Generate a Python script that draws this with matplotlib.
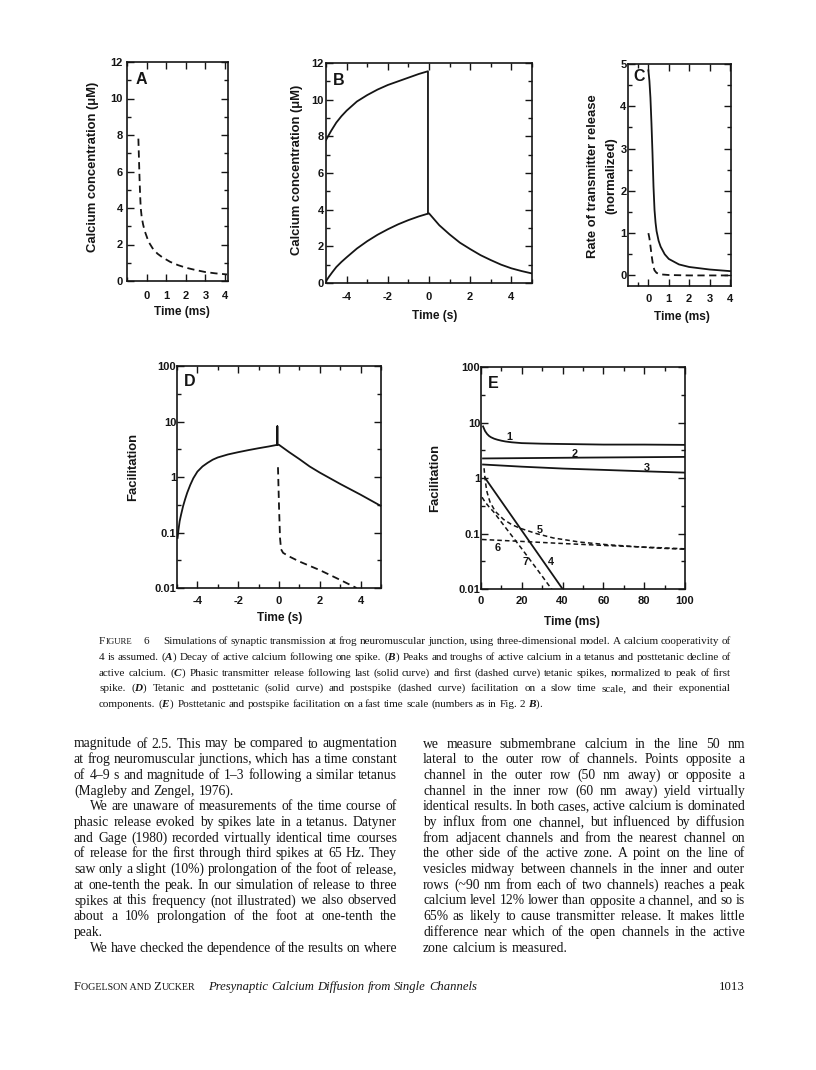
import numpy as np
import matplotlib.pyplot as plt
from matplotlib.ticker import MultipleLocator, FixedLocator, FixedFormatter, LogLocator, NullFormatter

## data

# A: decay of active calcium after one spike
a_t = [-0.42, -0.39, -0.36, -0.33, -0.3, -0.25, -0.18, -0.1, 0.0, 0.1, 0.3, 0.55, 0.8, 1.2, 1.6, 2.0, 2.5, 3.0, 3.5, 4.1]
a_ca = [7.8, 6.7, 5.6, 4.7, 4.0, 3.5, 3.1, 2.75, 2.45, 2.15, 1.8, 1.5, 1.3, 1.05, 0.87, 0.73, 0.6, 0.49, 0.42, 0.36]

# B: peaks / troughs in tetanus, posttetanic decline
b_peak_t = [-5, -4.75, -4.5, -4.25, -4, -3.5, -3, -2.5, -2, -1.5, -1, -0.5, -0.05, -0.05]
b_peak = [7.8, 8.3, 8.75, 9.1, 9.4, 9.9, 10.25, 10.55, 10.8, 11.0, 11.2, 11.4, 11.55, 3.8]
b_trough_t = [-5, -4.85, -4.7, -4.5, -4.25, -4, -3.5, -3, -2.5, -2, -1.5, -1, -0.5, 0,
              0.5, 1, 1.5, 2, 2.5, 3, 3.5, 4, 4.5, 5]
b_trough = [0.1, 0.35, 0.58, 0.87, 1.15, 1.4, 1.88, 2.28, 2.63, 2.93, 3.2, 3.43, 3.63, 3.8,
            3.15, 2.65, 2.2, 1.85, 1.52, 1.25, 1.0, 0.8, 0.65, 0.52]

# C: phasic release, last (solid) and first (dashed) spikes
c_last_t = [0, 0.05, 0.1, 0.15, 0.2, 0.25, 0.3, 0.35, 0.4, 0.5, 0.6, 0.8, 1.0, 1.5, 2, 3, 4.05]
c_last = [4.85, 4.6, 4.2, 3.6, 2.9, 2.1, 1.55, 1.25, 1.05, 0.82, 0.68, 0.5, 0.39, 0.26, 0.2, 0.14, 0.1]
c_first_t = [0, 0.05, 0.1, 0.15, 0.2, 0.25, 0.3, 0.4, 0.6, 1, 2, 4.05]
c_first = [1.0, 0.88, 0.7, 0.5, 0.33, 0.2, 0.12, 0.06, 0.025, 0.01, 0, 0]

# D: tetanic + posttetanic (solid), postspike (dashed)
d_tet_t = [-4.97, -4.93, -4.87, -4.8, -4.7, -4.6, -4.5, -4.35, -4.2, -4, -3.75, -3.5, -3.25, -3,
           -2.5, -2, -1.5, -1, -0.5, -0.08, -0.08, -0.08,
           0, 0.5, 1, 1.5, 2, 3, 4, 5]
d_tet = [0.08, 0.11, 0.16, 0.21, 0.3, 0.4, 0.52, 0.72, 0.95, 1.25, 1.55, 1.8, 2.05, 2.25,
         2.55, 2.8, 3.05, 3.3, 3.55, 3.8, 8.2, 3.8,
         3.8, 2.8, 2.1, 1.55, 1.2, 0.75, 0.48, 0.3]
d_spike_t = [-0.05, 0.0, 0.05, 0.1, 0.2, 0.5, 1, 2, 3, 3.8]
d_spike = [1.5, 0.3, 0.08, 0.05, 0.043, 0.037, 0.03, 0.021, 0.014, 0.01]

# E: fast time scale, curves 1-7 (1-4 solid, 5-7 dashed)
e1_t = [1, 1.5, 2, 3, 4, 5, 6.5, 8, 10, 12, 15, 20, 30, 40, 60, 80, 100]
e1 = [8.5, 7.7, 7.0, 6.2, 5.7, 5.4, 5.1, 4.9, 4.7, 4.55, 4.4, 4.25, 4.15, 4.1, 4.0, 4.0, 3.95]
e2_t = [1, 50, 100]
e2 = [2.25, 2.33, 2.4]
e3_t = [1, 20, 40, 60, 80, 100]
e3 = [1.75, 1.6, 1.48, 1.4, 1.32, 1.25]
e4_t = [2, 40]
e4 = [1.0, 0.01]
e5_t = [1.5, 2, 2.5, 3, 4.4, 7, 11, 15, 19, 27, 35.5, 48.5, 61.6, 84.5, 100]
e5 = [1.5, 0.95, 0.7, 0.55, 0.37, 0.25, 0.18, 0.145, 0.125, 0.1, 0.083, 0.07, 0.063, 0.055, 0.052]
e6_t = [0.5, 20, 40, 60, 80, 100]
e6 = [0.078, 0.072, 0.066, 0.061, 0.057, 0.053]
e7_t = [0.5, 2, 4, 6, 10, 20, 30, 35]
e7 = [0.45, 0.37, 0.3, 0.25, 0.16, 0.053, 0.017, 0.0095]
e_lab = ['1', '2', '3', '4', '5', '6', '7']
e_lab_t = [13.9, 46, 81.3, 34.3, 29, 8.2, 22]
e_lab_v = [5.4, 2.67, 1.49, 0.031, 0.116, 0.055, 0.031]

caption = [
    "Simulations of synaptic transmission at frog neuromuscular junction, using three-dimensional model. A calcium cooperativity of",
    "4 is assumed. ($\\mathit{A}$) Decay of active calcium following one spike. ($\\mathit{B}$) Peaks and troughs of active calcium in a tetanus and posttetanic decline of",
    "active calcium. ($\\mathit{C}$) Phasic transmitter release following last (solid curve) and first (dashed curve) tetanic spikes, normalized to peak of first",
    "spike. ($\\mathit{D}$) Tetanic and posttetanic (solid curve) and postspike (dashed curve) facilitation on a slow time scale, and their exponential",
    "components. ($\\mathit{E}$) Posttetanic and postspike facilitation on a fast time scale (numbers as in Fig. 2 $\\mathit{B}$).",
]
left_col = [
    "magnitude of 2.5. This may be compared to augmentation",
    "at frog neuromuscular junctions, which has a time constant",
    "of 4–9 s and magnitude of 1–3 following a similar tetanus",
    "(Magleby and Zengel, 1976).",
    "We are unaware of measurements of the time course of",
    "phasic release evoked by spikes late in a tetanus. Datyner",
    "and Gage (1980) recorded virtually identical time courses",
    "of release for the first through third spikes at 65 Hz. They",
    "saw only a slight (10%) prolongation of the foot of release,",
    "at one-tenth the peak. In our simulation of release to three",
    "spikes at this frequency (not illustrated) we also observed",
    "about a 10% prolongation of the foot at one-tenth the",
    "peak.",
    "We have checked the dependence of the results on where",
]
left_last = [3, 12]
left_indent = [4, 13]
right_col = [
    "we measure submembrane calcium in the line 50 nm",
    "lateral to the outer row of channels. Points opposite a",
    "channel in the outer row (50 nm away) or opposite a",
    "channel in the inner row (60 nm away) yield virtually",
    "identical results. In both cases, active calcium is dominated",
    "by influx from one channel, but influenced by diffusion",
    "from adjacent channels and from the nearest channel on",
    "the other side of the active zone. A point on the line of",
    "vesicles midway between channels in the inner and outer",
    "rows (~90 nm from each of two channels) reaches a peak",
    "calcium level 12% lower than opposite a channel, and so is",
    "65% as likely to cause transmitter release. It makes little",
    "difference near which of the open channels in the active",
    "zone calcium is measured.",
]
right_last = [13]

plt.rcParams['font.family'] = ['Liberation Sans', 'DejaVu Sans']
plt.rcParams['font.weight'] = 'bold'
plt.rcParams['axes.unicode_minus'] = False
plt.rcParams['mathtext.fontset'] = 'custom'
plt.rcParams['mathtext.rm'] = 'Liberation Serif'
plt.rcParams['mathtext.it'] = 'Liberation Serif:italic'

W, H = 816, 1070
ink = '#151515'
fig = plt.figure(figsize=(W / 100, H / 100), dpi=100)
R = fig.canvas.get_renderer()


def ax_px(l, t, r, b):
    return fig.add_axes([l / W, 1 - b / H, (r - l) / W, (b - t) / H])


def txt(x, y, s, **kw):
    return fig.text(x / W, 1 - y / H, s, color=ink, **kw)


def style(ax, xpad, ypad):
    ax.tick_params(which='both', direction='in', top=True, right=True, width=1.0,
                   labelsize=8, colors=ink)
    ax.tick_params(which='major', length=5)
    ax.tick_params(which='minor', length=3)
    ax.tick_params(axis='x', pad=xpad)
    ax.tick_params(axis='y', pad=ypad)
    for sp in ax.spines.values():
        sp.set_linewidth(1.2)
        sp.set_color(ink)


lw = 1.3
dash = (0, (4, 2.5))

# ---- A
ax = ax_px(127, 62, 228, 281)
ax.plot(a_t, a_ca, color=ink, lw=lw, ls=dash)
ax.set_xlim(-1, 4.15)
ax.set_ylim(0, 12)
ax.xaxis.set_major_locator(FixedLocator([0, 1, 2, 3, 4]))
ax.xaxis.set_minor_locator(FixedLocator([-1]))
ax.yaxis.set_major_locator(MultipleLocator(2))
ax.yaxis.set_minor_locator(MultipleLocator(1))
style(ax, 7, 3)

# ---- B
ax = ax_px(326, 63, 532, 283)
ax.plot(b_peak_t, b_peak, color=ink, lw=lw)
ax.plot(b_trough_t, b_trough, color=ink, lw=lw)
ax.set_xlim(-5, 5)
ax.set_ylim(0, 12)
ax.xaxis.set_major_locator(MultipleLocator(2))
ax.xaxis.set_minor_locator(MultipleLocator(1))
ax.yaxis.set_major_locator(MultipleLocator(2))
ax.yaxis.set_minor_locator(MultipleLocator(1))
style(ax, 6.5, 1.5)

# ---- C
ax = ax_px(628, 64, 731, 286)
ax.plot(c_last_t, c_last, color=ink, lw=lw)
ax.plot(c_first_t, c_first, color=ink, lw=lw, ls=dash)
ax.set_xlim(-1, 4.05)
ax.set_ylim(-0.25, 5)
ax.xaxis.set_major_locator(FixedLocator([0, 1, 2, 3, 4]))
ax.xaxis.set_minor_locator(FixedLocator([-0.5]))
ax.yaxis.set_major_locator(MultipleLocator(1))
ax.yaxis.set_minor_locator(MultipleLocator(0.5))
style(ax, 5.5, 1)

# ---- D and E (log scale)
logticks = [0.01, 0.1, 1, 10, 100]
loglabels = ['0.01', '0.1', '1', '10', '100']


def logy(ax):
    ax.set_yscale('log')
    ax.set_ylim(0.01, 100)
    ax.yaxis.set_major_locator(FixedLocator(logticks))
    ax.yaxis.set_major_formatter(FixedFormatter(loglabels))
    ax.yaxis.set_minor_locator(LogLocator(subs=[10 ** 0.5]))
    ax.yaxis.set_minor_formatter(NullFormatter())


ax = ax_px(177, 366, 381, 588)
ax.plot(d_tet_t, d_tet, color=ink, lw=lw)
ax.plot(d_spike_t, d_spike, color=ink, lw=lw, ls=dash)
ax.set_xlim(-5, 5)
logy(ax)
ax.xaxis.set_major_locator(MultipleLocator(2))
ax.xaxis.set_minor_locator(MultipleLocator(1))
style(ax, 5.5, 0.5)

ax = ax_px(481, 367, 685, 589)
for t, v in [(e1_t, e1), (e2_t, e2), (e3_t, e3), (e4_t, e4)]:
    ax.plot(t, v, color=ink, lw=lw)
for t, v in [(e5_t, e5), (e6_t, e6), (e7_t, e7)]:
    ax.plot(t, v, color=ink, lw=1.1, ls=(0, (3, 2)))
for s, t, v in zip(e_lab, e_lab_t, e_lab_v):
    ax.text(t, v, s, fontsize=7.8, ha='center', va='center', color=ink)
ax.set_xlim(0, 100)
logy(ax)
ax.xaxis.set_major_locator(MultipleLocator(20))
ax.xaxis.set_minor_locator(MultipleLocator(10))
style(ax, 5, 0.5)

# panel letters and axis titles
for s, x, y in [('A', 141.7, 80), ('B', 338.3, 80.7), ('C', 639.3, 76.7), ('D', 190, 381.7), ('E', 493.3, 383.3)]:
    txt(x, y, s, fontsize=11.5, ha='center', va='center')
ylab = dict(fontsize=9.4, ha='center', va='center', rotation=90)
xlab = dict(fontsize=8.6, ha='center', va='center')
txt(93.3, 167, 'Calcium concentration (μM)', **ylab)
txt(297.3, 170, 'Calcium concentration (μM)', **ylab)
txt(593, 176, 'Rate of transmitter release', **ylab)
txt(611.7, 176, '(normalized)', **ylab)
txt(133.3, 467, 'Facilitation', **ylab)
txt(435, 478, 'Facilitation', **ylab)
txt(181.7, 311.7, 'Time (ms)', **xlab)
txt(435, 316, 'Time (s)', **xlab)
txt(681.7, 316.7, 'Time (ms)', **xlab)
txt(280, 618.3, 'Time (s)', **xlab)
txt(571.7, 621.7, 'Time (ms)', **xlab)


# ---- page text (justified by spreading words)
def word_widths(words, size, style='normal'):
    out = []
    for w in words:
        o = txt(0, 0, w, fontsize=size, family='Liberation Serif', weight='normal', style=style)
        out.append(o.get_window_extent(R).width)
        o.remove()
    return out


def fit_size(lines, width, size0=10.0, min_gap=0.24):
    # largest size where every justified line still keeps a normal-ish word gap
    best = 99
    for words, avail in lines:
        ww = word_widths(words, size0)
        need = sum(ww) + (len(words) - 1) * min_gap * size0 * 100 / 72
        best = min(best, size0 * avail / need)
    return best


def put_line(words, x0, x1, yb, size, justify=True, style='normal'):
    objs = [txt(0, 0, w, fontsize=size, family='Liberation Serif', weight='normal',
                style=style, va='baseline') for w in words]
    widths = [o.get_window_extent(R).width for o in objs]
    gap = size * 100 / 72 * 0.25
    if justify and len(words) > 1:
        gap = (x1 - x0 - sum(widths)) / (len(words) - 1)
    x = x0
    for o, w in zip(objs, widths):
        o.set_position((x / W, 1 - yb / H))
        x += w + gap
    return x


def small_caps(pieces, x, yb, size):
    for s, big in pieces:
        o = txt(x, yb, s, fontsize=size if big else size * 0.78,
                family='Liberation Serif', weight='normal', va='baseline')
        x += o.get_window_extent(R).width
    return x


# caption
cap_x0, cap_x1 = 99, 731
cap_y = [644, 660, 675.5, 691, 707]
cap_first = 163
cap_lines = [(caption[0].split(), cap_x1 - cap_first)] + \
            [(caption[i].split(), cap_x1 - cap_x0) for i in range(1, 4)]
cap_size = min(8.6, fit_size(cap_lines, 0, 8.0, 0.2))
x = small_caps([('F', True), ('IGURE', False)], cap_x0, cap_y[0], cap_size)
txt(x + 12, cap_y[0], '6', fontsize=cap_size, family='Liberation Serif', weight='normal', va='baseline')
put_line(caption[0].split(), cap_first, cap_x1, cap_y[0], cap_size)
for i in range(1, 5):
    put_line(caption[i].split(), cap_x0, cap_x1, cap_y[i], cap_size, justify=i < 4)

# two text columns
body_lines = []
for i, line in enumerate(left_col):
    if i not in left_last:
        body_lines.append((line.split(), 323 - (16 if i in left_indent else 0)))
for i, line in enumerate(right_col):
    if i not in right_last:
        body_lines.append((line.split(), 322))
body = min(10.2, fit_size(body_lines, 0, 10.0, 0.22))

for i, line in enumerate(left_col):
    x0 = 74 + (16 if i in left_indent else 0)
    put_line(line.split(), x0, 397, 747.5 + i * 15.7, body, justify=i not in left_last)
for i, line in enumerate(right_col):
    put_line(line.split(), 423, 745, 747.5 + i * 15.7, body, justify=i not in right_last)

foot_y = 990
small_caps([('F', True), ('OGELSON AND ', False), ('Z', True), ('UCKER', False)], 74, foot_y, 9.2)
put_line('Presynaptic Calcium Diffusion from Single Channels'.split(), 208, 0, foot_y, 9.1,
         justify=False, style='italic')
txt(745, foot_y, '1013', fontsize=9.2, family='Liberation Serif', weight='normal', va='baseline', ha='right')

fig.savefig('out.png', dpi=100, facecolor='white')
